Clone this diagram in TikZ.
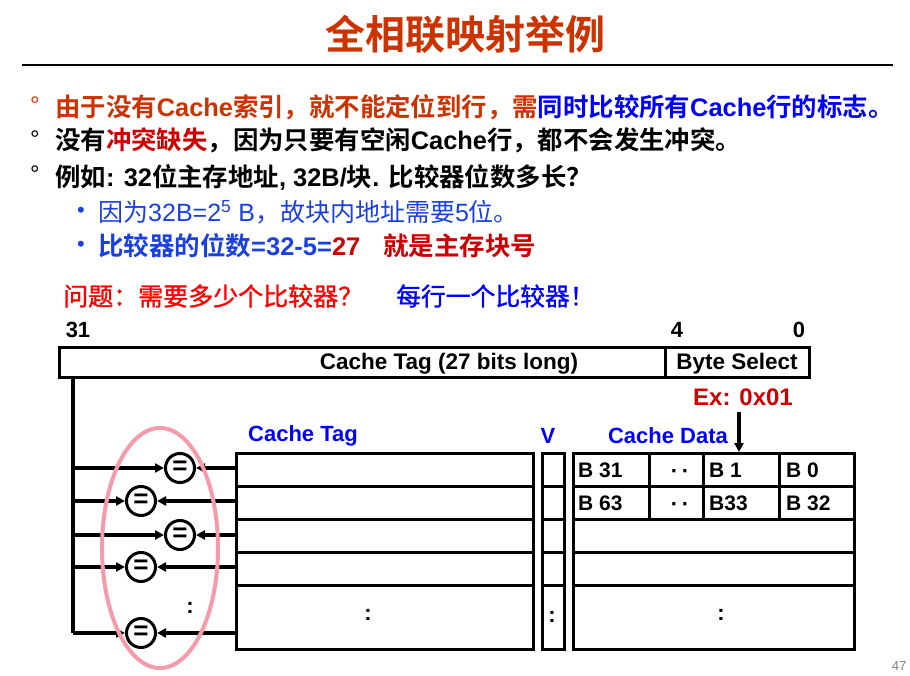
\documentclass[tikz,border=0pt]{standalone}
\usepackage{fontspec}
\setmainfont{Liberation Sans}
\newfontfamily\cjk{Noto Sans CJK SC}[BoldFont={Noto Sans CJK SC Bold}]
\newfontfamily\cjkmed{Noto Sans CJK SC}[FakeBold=1.2]
\usetikzlibrary{arrows.meta}
\definecolor{ttl}{HTML}{CC3300}
\definecolor{dred}{HTML}{CC0000}
\definecolor{brd}{HTML}{FF0000}
\definecolor{bl}{HTML}{0000FF}
\definecolor{sbl}{HTML}{1A40E0}
\definecolor{pinkc}{HTML}{F59BAA}
\newcommand\zh[1]{{\cjk #1}}
\newcommand\fs[1]{\fontsize{#1}{#1}\selectfont}
\begin{document}
\begin{tikzpicture}[x=1pt,y=-1pt,
  txt/.style={inner sep=0pt, anchor=west},
  cell/.style={draw, line width=3pt, anchor=north west, inner sep=0pt, minimum height=33pt},
  lbl/.style={inner sep=0pt, font=\bfseries\fs{21}},
  cmp/.style={circle, draw, line width=3pt, minimum size=29pt, inner sep=0pt, fill=white, font=\bfseries\fs{26}},
  busline/.style={line width=3.5pt},
  arrowline/.style={line width=3.5pt, -{Triangle[length=9pt,width=9pt]}},
  dotsl/.style={inner sep=0pt, font=\bfseries\fs{22}},
  twodots/.style={inner sep=0pt, anchor=base, font=\bfseries\fs{22}}]
\useasboundingbox (0,0) rectangle (910,676);
% title
\node[font=\cjk\bfseries\fs{40}, text=ttl, inner sep=0pt] (title) at (465,34) {全相联映射举例};
\coordinate (rl) at (22,65); \coordinate (rr) at (893,65);
\draw[line width=1.5pt] (rl) -- (rr);
% bullets
\node[inner sep=0pt, anchor=north west, text=ttl, font=\fs{24}] (b1) at (30,97) {°};
\node[txt, font=\bfseries\fs{25.4}] (l1) at (55,107) {\color{ttl}\zh{由于没有}Cache\zh{索引，就不能定位到行，需}\color{bl}\zh{同时比较所有}Cache\zh{行的标志。}};
\node[inner sep=0pt, anchor=north west, font=\fs{24}] (b2) at (30,131) {°};
\node[txt, font=\bfseries\fs{25.4}] (l2) at (55,140) {\zh{没有}{\color{dred}\zh{冲突缺失}}\zh{，因为只要有空闲}Cache\zh{行，都不会发生冲突。}};
\node[inner sep=0pt, anchor=north west, font=\fs{24}] (b3) at (30,166) {°};
\node[txt, font=\bfseries\fs{25.4}] (l3) at (55,177) {\zh{例如}: 32\zh{位主存地址}, 32B/\zh{块}. \zh{比较器位数多长？}};
\node[txt, text=sbl, font=\fs{22}] (s1b) at (77,212) {•};
\node[txt, text=sbl, font=\fs{25}] (s1) at (98,212) {\zh{因为}32B=2\textsuperscript{5} B\zh{，故块内地址需要}5\zh{位。}};
\node[txt, text=sbl, font=\fs{22}] (s2b) at (77,246) {•};
\node[txt, font=\bfseries\fs{25.5}] (s2) at (98,246) {\color{sbl}\zh{比较器的位数}=32-5=\color{dred}27\hspace{23pt}\zh{就是主存块号}};
\node[txt, text=brd, font=\cjkmed\fs{25}] (q) at (63,296) {问题：需要多少个比较器？};
\node[txt, text=bl, font=\cjkmed\fs{24.8}] (a) at (396,296) {每行一个比较器！};
% address
\node[lbl, font=\bfseries\fs{22}] (n31) at (78,330) {31};
\node[lbl, font=\bfseries\fs{22}] (n4) at (677,330) {4};
\node[lbl, font=\bfseries\fs{22}] (n0) at (799,330) {0};
\node[cell, minimum width=606pt, minimum height=30pt] (atag) at (58,346) {};
\node[cell, minimum width=144pt, minimum height=30pt] (abyte) at (664,346) {};
\node[lbl, anchor=base, font=\bfseries\fs{22.5}] (atagt) at (449,369) {Cache Tag (27 bits long)};
\node[lbl, anchor=base, font=\bfseries\fs{22.5}] (abytet) at (737,369) {Byte Select};
\node[lbl, font=\bfseries\fs{24}, text=dred] (ex) at (743,397) {Ex: 0x01};
% headers
\node[lbl, font=\bfseries\fs{22}, text=bl] (hct) at (303,436) {Cache Tag};
\node[lbl, font=\bfseries\fs{22}, text=bl] (hv) at (548,436) {V};
\node[lbl, font=\bfseries\fs{22}, text=bl] (hcd) at (668,436) {Cache Data};
% tag array
\node[cell, minimum width=297pt] (tr1) at (235,452) {};
\node[cell, minimum width=297pt] (tr2) at (235,485) {};
\node[cell, minimum width=297pt] (tr3) at (235,518) {};
\node[cell, minimum width=297pt] (tr4) at (235,551) {};
\node[cell, minimum width=297pt, minimum height=64pt] (tr5) at (235,584) {};
% V column
\node[cell, minimum width=22pt] (v1) at (541,452) {};
\node[cell, minimum width=22pt] (v2) at (541,485) {};
\node[cell, minimum width=22pt] (v3) at (541,518) {};
\node[cell, minimum width=22pt] (v4) at (541,551) {};
\node[cell, minimum width=22pt, minimum height=64pt] (v5) at (541,584) {};
% data array
\node[cell, minimum width=76pt] (r1a) at (572,452) {};
\node[cell, minimum width=54pt] (r1b) at (648,452) {};
\node[cell, minimum width=76pt] (r1c) at (702,452) {};
\node[cell, minimum width=75pt] (r1d) at (778,452) {};
\node[cell, minimum width=76pt] (r2a) at (572,485) {};
\node[cell, minimum width=54pt] (r2b) at (648,485) {};
\node[cell, minimum width=76pt] (r2c) at (702,485) {};
\node[cell, minimum width=75pt] (r2d) at (778,485) {};
\node[cell, minimum width=281pt] (d3) at (572,518) {};
\node[cell, minimum width=281pt] (d4) at (572,551) {};
\node[cell, minimum width=281pt, minimum height=64pt] (d5) at (572,584) {};
\node[lbl, anchor=west] (t1a) at ([xshift=6pt]r1a.west) {B 31};
\node[twodots] (t1b) at (680,478) {·\,·};
\node[lbl, anchor=west] (t1c) at ([xshift=7pt]r1c.west) {B 1};
\node[lbl, anchor=west] (t1d) at ([xshift=8pt]r1d.west) {B 0};
\node[lbl, anchor=west] (t2a) at ([xshift=6pt]r2a.west) {B 63};
\node[twodots] (t2b) at (680,511) {·\,·};
\node[lbl, anchor=west] (t2c) at ([xshift=7pt]r2c.west) {B33};
\node[lbl, anchor=west] (t2d) at ([xshift=8pt]r2d.west) {B 32};
\node[dotsl] (k1) at (368,615) {:};
\node[dotsl] (k2) at (552,617) {:};
\node[dotsl] (k3) at (721,615) {:};
\node[dotsl] (k4) at (190,608) {:};
% arrow to data
\coordinate (exs) at (739,412);
\draw[arrowline] (exs) -- (exs |- r1c.north);
% bus
\coordinate (bt) at (73,376);
\coordinate (bb) at (73,633);
\draw[busline] (bt) -- (bb);
% comparators
\node[cmp] (c1) at (180,468) {=};
\node[cmp] (c2) at (141,501) {=};
\node[cmp] (c3) at (180,535) {=};
\node[cmp] (c4) at (141,567) {=};
\node[cmp] (c5) at (141,633) {=};
\foreach \i in {1,...,5}{
  \draw[arrowline] (bt |- c\i) -- (c\i);
  \draw[arrowline] (tr\i.west |- c\i) -- (c\i);
}
\draw[pinkc, line width=4pt] (160,548) ellipse [x radius=58pt, y radius=120pt];
\node[text=gray, font=\fs{13}, inner sep=0pt] (pg) at (899,666) {47};
\end{tikzpicture}
\end{document}
